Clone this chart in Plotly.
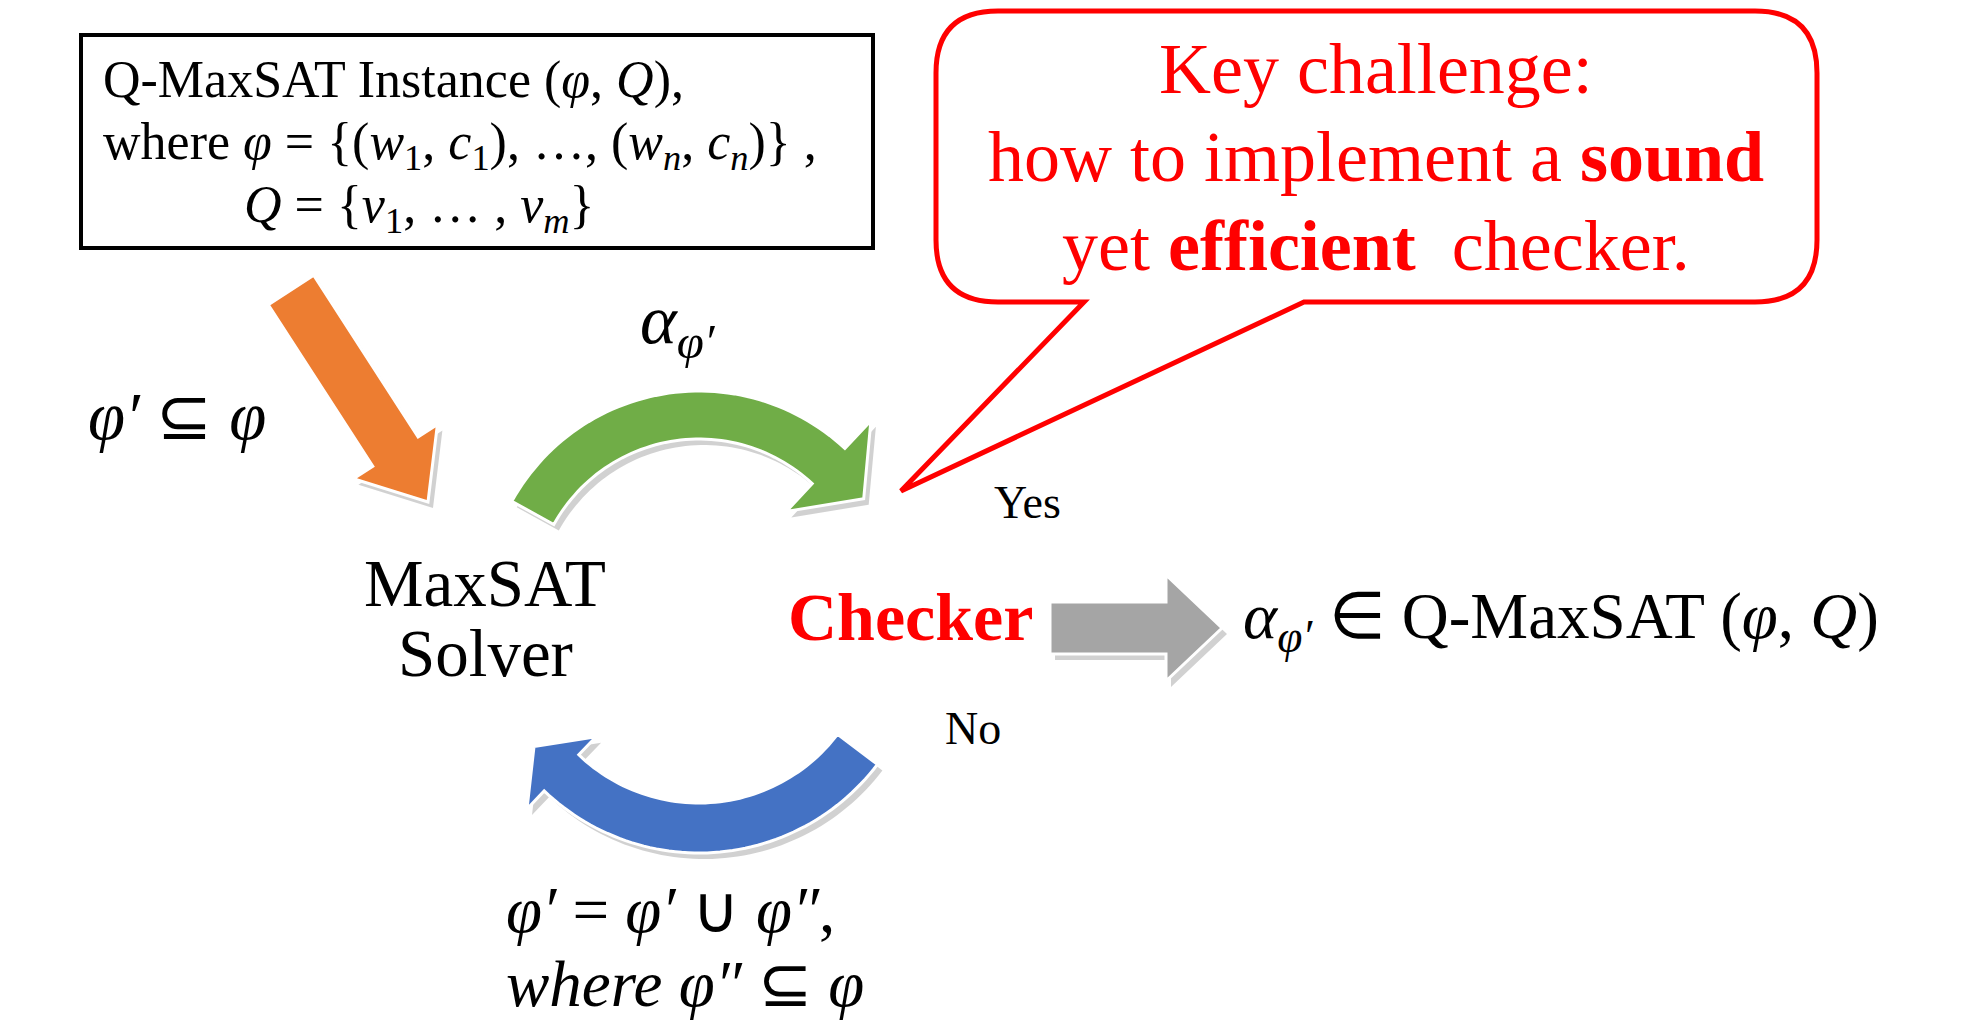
import numpy as np
import plotly.graph_objects as go

# Texts of the diagram
box_lines = [
    "Q-MaxSAT Instance (<i>φ</i>, <i>Q</i>),",
    "where <i>φ</i> = {(<i>w</i><sub>1</sub>, <i>c</i><sub>1</sub>), …, (<i>w<sub>n</sub></i>, <i>c<sub>n</sub></i>)} ,",
    "<i>Q</i> = {<i>v</i><sub>1</sub>, … , <i>v<sub>m</sub></i>}",
]
callout_lines = [
    "Key challenge:",
    "how to implement a <b>sound</b>",
    "yet <b>efficient</b>  checker.",
]
solver_lines = ["MaxSAT", "Solver"]
checker_label = "<b>Checker</b>"
result_label = "<i>α<sub>φ′</sub></i> ∈ Q-MaxSAT (<i>φ</i>, <i>Q</i>)"
input_label = "<i>φ′</i> ⊆ <i>φ</i>"
assign_label = "<i>α<sub>φ′</sub></i>"
refine_lines = ["<i>φ′</i> = <i>φ′</i> ∪ <i>φ″</i>,", "<i>where φ″</i> ⊆ <i>φ</i>"]
yes_label = "Yes"
no_label = "No"

W, H = 1976, 1024
OFF = 8  # page margin of the html body
SERIF = "Liberation Serif"
RED = "#FF0000"


def to_path(pts):
    return "M " + " L ".join(f"{x:.1f},{y:.1f}" for x, y in pts) + " Z"


def straight_arrow(s, t, hw, hh, hl):
    s, t = np.array(s, float), np.array(t, float)
    d = (t - s) / np.linalg.norm(t - s)
    n = np.array([-d[1], d[0]])
    e = t - d * hl
    pts = [s + n * hw, e + n * hw, e + n * hh, t, e - n * hh, e - n * hw, s - n * hw]
    return [tuple(p) for p in pts]


def arc_arrow(cx, cy, r, hw, t0, t1, hh, hl, n=60):
    ts = np.radians(np.linspace(t0, t1, n))
    outer = [(cx + (r + hw) * np.cos(t), cy - (r + hw) * np.sin(t)) for t in ts]
    inner = [(cx + (r - hw) * np.cos(t), cy - (r - hw) * np.sin(t)) for t in ts[::-1]]
    te = np.radians(t1)
    sign = np.sign(t1 - t0)
    b = np.array([cx + r * np.cos(te), cy - r * np.sin(te)])
    u = np.array([np.cos(te), -np.sin(te)])
    d = sign * np.array([-np.sin(te), -np.cos(te)])
    head = [tuple(b + u * hh), tuple(b + d * hl), tuple(b - u * hh)]
    return outer + head + inner


def add_block(fig, pts, color):
    shadow = [(x + 5, y + 6) for x, y in pts]
    fig.add_shape(type="path", path=to_path(shadow), fillcolor="rgba(0,0,0,0.18)",
                  line=dict(width=0), xref="x", yref="y")
    fig.add_shape(type="path", path=to_path(pts), fillcolor=color,
                  line=dict(color="white", width=3), xref="x", yref="y")


fig = go.Figure()
fig.add_trace(go.Scatter(x=[0, W], y=[0, H], mode="markers",
                         marker=dict(opacity=0), hoverinfo="skip", showlegend=False))

# input box
fig.add_shape(type="rect", x0=81, y0=35, x1=873, y1=248,
              line=dict(color="black", width=4), fillcolor="white")

# callout with tail
x0, y0, x1, y1, rr = 936, 11, 1817, 302, 62
callout = (f"M {x0 + rr},{y0} L {x1 - rr},{y0} Q {x1},{y0} {x1},{y0 + rr} "
           f"L {x1},{y1 - rr} Q {x1},{y1} {x1 - rr},{y1} "
           f"L 1304,{y1} L 901,491 L 1084,{y1} "
           f"L {x0 + rr},{y1} Q {x0},{y1} {x0},{y1 - rr} "
           f"L {x0},{y0 + rr} Q {x0},{y0} {x0 + rr},{y0} Z")
fig.add_shape(type="path", path=callout, fillcolor="white",
              line=dict(color=RED, width=5))

# arrows
add_block(fig, straight_arrow((291, 290), (428, 502), 27, 50, 60), "#ED7D31")
add_block(fig, arc_arrow(699, 605, 190, 24, 151, 47, 62, 48), "#70AD47")
add_block(fig, arc_arrow(699, 629, 199, 25, 322.8, 226.3, 50, 38), "#4472C4")
add_block(fig, straight_arrow((1050, 628), (1222, 628), 26, 53, 56), "#A5A5A5")

ann = []
for txt, (x, y) in zip(box_lines, [(101, 80), (101, 145), (242, 208)]):
    ann.append(dict(x=x, y=y, text=txt, xanchor="left", font=dict(size=52, color="black")))
for txt, y in zip(callout_lines, [69, 157, 246]):
    ann.append(dict(x=1376, y=y, text=txt, xanchor="center", font=dict(size=72, color=RED)))
for txt, y in zip(solver_lines, [583, 653]):
    ann.append(dict(x=485, y=y, text=txt, xanchor="center",
                    font=dict(size=67, color="black")))
ann.append(dict(x=910, y=617, text=checker_label, xanchor="center",
                font=dict(size=68, color=RED)))
ann.append(dict(x=1241, y=621, text=result_label, xanchor="left",
                font=dict(size=65, color="black")))
ann.append(dict(x=86, y=416, text=input_label, xanchor="left",
                font=dict(size=67, color="black")))
ann.append(dict(x=638, y=325, text=assign_label, xanchor="left",
                font=dict(size=70, color="black")))
ann.append(dict(x=1027, y=502, text=yes_label, xanchor="center",
                font=dict(size=46, color="black")))
ann.append(dict(x=973, y=728, text=no_label, xanchor="center",
                font=dict(size=46, color="black")))
for txt, y in zip(refine_lines, [910, 984]):
    ann.append(dict(x=504, y=y, text=txt, xanchor="left", font=dict(size=65, color="black")))

for a in ann:
    a.update(xref="x", yref="y", showarrow=False, yanchor="middle")
    a["font"]["family"] = SERIF

fig.update_layout(
    annotations=ann,
    width=W, height=H,
    margin=dict(l=0, r=0, t=0, b=0),
    paper_bgcolor="white", plot_bgcolor="white",
    xaxis=dict(range=[OFF, W + OFF], visible=False, fixedrange=True),
    yaxis=dict(range=[H + OFF, OFF], visible=False, fixedrange=True),
    showlegend=False,
)

fig.write_html("out.html")
